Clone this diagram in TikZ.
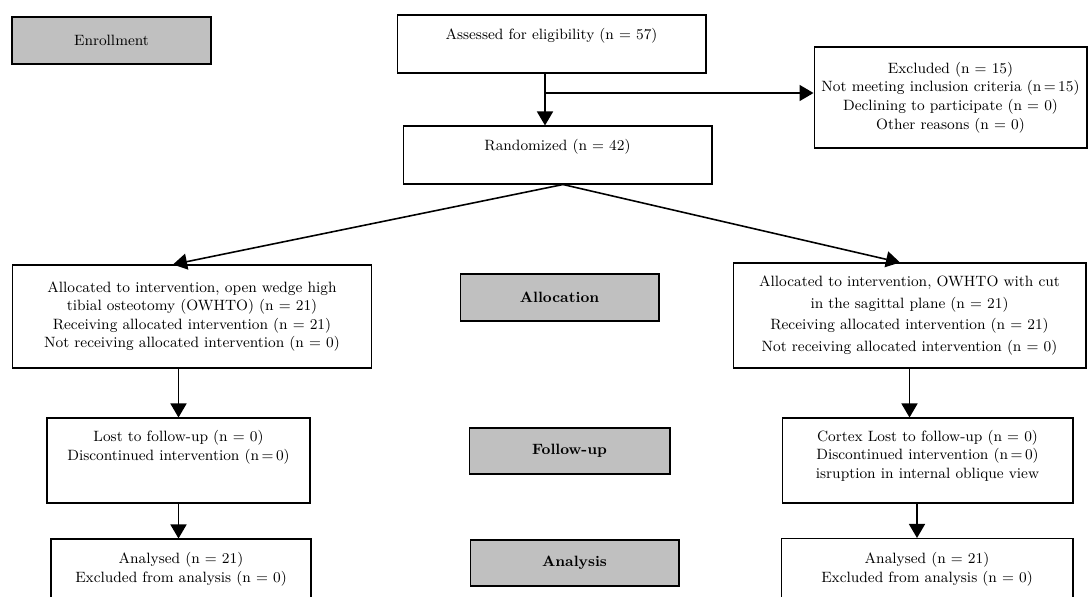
\documentclass[tikz,border=0pt]{standalone}
\usepackage{tikz}
\usetikzlibrary{arrows.meta}
\definecolor{stageGray}{HTML}{C0C0C0}
\newcommand{\padbelow}[1]{\rule[-#1]{0pt}{0pt}}

\begin{document}
\begin{tikzpicture}[x=0.02cm,y=-0.02cm,
  box/.style={draw,line width=0.6pt,align=center,inner sep=2pt,font=\fontsize{8.5}{10.6}\selectfont},
  stage/.style={box,fill=stageGray},
  arr/.style={-{Triangle[length=0.28cm,width=0.32cm]},line width=0.9pt}
]
\clip (0,0) rectangle (1091,596);
\node[stage,minimum width=3.98cm,minimum height=0.94cm] (enroll) at (111.5,40.5) {Enrollment};
\node[box,minimum width=6.18cm,minimum height=1.16cm] (assess) at (551.5,44) {Assessed for eligibility (n = 57)\padbelow{12pt}};
\node[box,minimum width=5.46cm,minimum height=2.02cm] (excl) at (950.5,97.5) {Excluded (n = 15)\\Not meeting inclusion criteria (n\,=\,15)\\Declining to participate (n = 0)\\Other reasons (n = 0)};
\node[box,minimum width=6.18cm,minimum height=1.16cm] (rand) at (557.5,155) {Randomized (n = 42)\padbelow{11pt}};
\node[box,minimum width=7.20cm,minimum height=2.06cm] (allocL) at (192,316.5) {Allocated to intervention, open wedge high\\tibial osteotomy (OWHTO) (n = 21)\\Receiving allocated intervention (n = 21)\\Not receiving allocated intervention (n = 0)};
\node[box,minimum width=7.06cm,minimum height=2.10cm,font=\fontsize{8.5}{12.5}\selectfont] (allocR) at (909.5,315.5) {Allocated to intervention, OWHTO with cut\\in the sagittal plane (n = 21)\\Receiving allocated intervention (n = 21)\\Not receiving allocated intervention (n = 0)};
\node[stage,minimum width=3.98cm,minimum height=0.94cm,font=\fontsize{8.5}{10.6}\selectfont\bfseries] (allocLab) at (559.5,297.5) {Allocation};
\node[box,minimum width=5.26cm,minimum height=1.70cm] (fuL) at (178.5,460.5) {Lost to follow-up (n = 0)\\Discontinued intervention (n\,=\,0)\padbelow{17pt}};
\node[box,minimum width=5.82cm,minimum height=1.70cm] (fuR) at (927.5,460.5) {Cortex Lost to follow-up (n = 0)\\Discontinued intervention (n\,=\,0)\\isruption in internal oblique view\padbelow{7pt}};
\node[stage,minimum width=4.02cm,minimum height=0.92cm,font=\fontsize{8.5}{10.6}\selectfont\bfseries] (fuLab) at (569.5,451) {Follow-up};
\node[box,minimum width=5.20cm,minimum height=1.20cm] (anL) at (181,569) {Analysed (n = 21)\\Excluded from analysis (n = 0)};
\node[box,minimum width=5.84cm,minimum height=1.22cm] (anR) at (927,569) {Analysed (n = 21)\\Excluded from analysis (n = 0)};
\node[stage,minimum width=4.18cm,minimum height=0.92cm,font=\fontsize{8.5}{10.6}\selectfont\bfseries] (anLab) at (574.5,563) {Analysis};
\coordinate (trunk) at (545,93);
\draw[arr] (trunk |- assess.south) -- (trunk |- rand.north);
\draw[arr] (trunk) -- (trunk -| excl.west);
\draw[arr] ([xshift=0.11cm]rand.south) -- ([xshift=-0.38cm]allocL.north);
\draw[arr] ([xshift=0.11cm]rand.south) -- ([xshift=-0.19cm]allocR.north);
\draw[arr] (allocL.south -| fuL.north) -- (fuL.north);
\draw[arr] (allocR.south) -- (allocR.south |- fuR.north);
\draw[arr] (fuL.south) -- (fuL.south |- anL.north);
\draw[arr] ([xshift=-0.21cm]fuR.south) -- ([xshift=-0.2cm]anR.north);
\end{tikzpicture}
\end{document}
